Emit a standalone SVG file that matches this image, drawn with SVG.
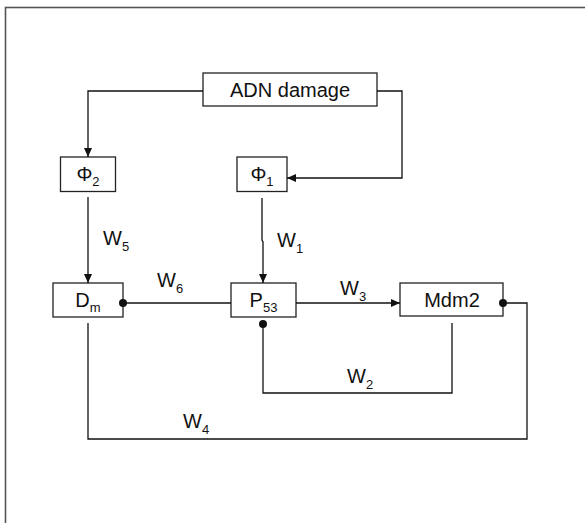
<svg xmlns="http://www.w3.org/2000/svg" width="585" height="523" viewBox="0 0 585 523">
<defs>
<style>
.box{fill:#fff;stroke:#222;stroke-width:1.3}
.ln{fill:none;stroke:#111;stroke-width:1.3}
.t{font-family:"Liberation Sans",Arial,sans-serif;fill:#111}
.w{font-size:20px}
.s{font-size:13px}
</style>
<marker id="arr" markerWidth="9" markerHeight="8" refX="9" refY="4" orient="auto" markerUnits="userSpaceOnUse">
<path d="M0,0 L9,4 L0,8 Z" fill="#111"/>
</marker>
</defs>
<rect x="5.5" y="7.5" width="600" height="540" fill="#fff" stroke="#555" stroke-width="1.6"/>

<g id="adn">
<rect class="box" x="203" y="73" width="174" height="33"/>
<text class="t" x="290" y="96.5" font-size="20" text-anchor="middle">ADN damage</text>
</g>
<g id="phi2">
<rect class="box" x="60.5" y="157" width="55" height="34.5"/>
<text class="t" x="88" y="181" font-size="20" text-anchor="middle">Φ<tspan class="s" dy="5">2</tspan></text>
</g>
<g id="phi1">
<rect class="box" x="237" y="157" width="50" height="34.5"/>
<text class="t" x="262" y="181" font-size="20" text-anchor="middle">Φ<tspan class="s" dy="5">1</tspan></text>
</g>
<g id="dm">
<rect class="box" x="53" y="283" width="70" height="34"/>
<text class="t" x="88" y="307" font-size="20" text-anchor="middle">D<tspan class="s" dy="5">m</tspan></text>
</g>
<g id="p53">
<rect class="box" x="231" y="283" width="65" height="34"/>
<text class="t" x="263.5" y="307" font-size="20" text-anchor="middle">P<tspan class="s" dy="5">53</tspan></text>
</g>
<g id="mdm2">
<rect class="box" x="400" y="283" width="103" height="33"/>
<text class="t" x="452" y="307" font-size="20" text-anchor="middle">Mdm2</text>
</g>

<g id="connectors">
<path class="ln" d="M203,91 H88 V157" marker-end="url(#arr)"/>
<path class="ln" d="M377,91 H402 V178 H287" marker-end="url(#arr)"/>
<path class="ln" d="M88,197 V283" marker-end="url(#arr)"/>
<path class="ln" d="M262,198 V240 L263,242 V283" marker-end="url(#arr)"/>
<path class="ln" d="M123,303 H231"/>
<circle cx="123" cy="303" r="4" fill="#111"/>
<path class="ln" d="M296,303 H400" marker-end="url(#arr)"/>
<path class="ln" d="M503,303 H527 V439 H88 V323"/>
<circle cx="503" cy="303" r="4" fill="#111"/>
<path class="ln" d="M452,323 V393 H263 V324"/>
<circle cx="263" cy="324" r="4" fill="#111"/>
<text class="t w" x="103" y="245">W<tspan class="s" dy="6">5</tspan></text>
<text class="t w" x="277" y="247">W<tspan class="s" dy="6">1</tspan></text>
<text class="t w" x="157" y="287">W<tspan class="s" dy="6">6</tspan></text>
<text class="t w" x="340" y="295">W<tspan class="s" dy="6">3</tspan></text>
<text class="t w" x="347" y="383">W<tspan class="s" dy="6">2</tspan></text>
<text class="t w" x="183" y="428">W<tspan class="s" dy="6">4</tspan></text>
</g>
</svg>
